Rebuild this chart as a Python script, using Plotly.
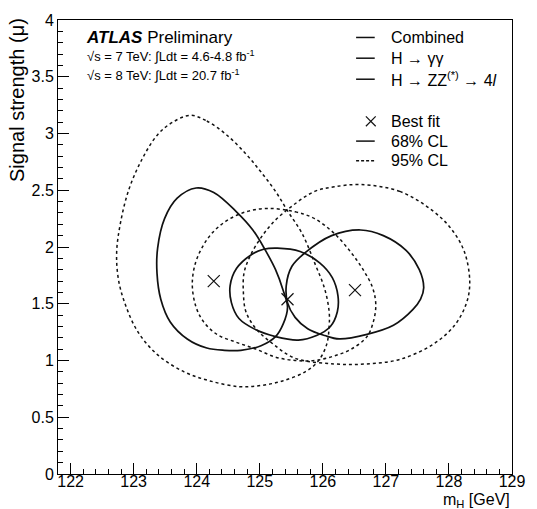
import plotly.graph_objects as go

# ---------------- data (m_H in GeV, signal strength mu) ----------------
zz68_m = [123.99, 124.27, 124.63, 124.89, 125.09, 125.25, 125.37, 125.44, 125.37, 125.25, 125.02,
          124.70, 124.44, 124.16, 123.85, 123.58, 123.43, 123.37, 123.38, 123.49, 123.69]
zz68_mu = [2.52, 2.48, 2.31, 2.15, 1.97, 1.80, 1.62, 1.47, 1.32, 1.21, 1.13,
           1.09, 1.09, 1.11, 1.19, 1.34, 1.54, 1.77, 1.99, 2.25, 2.43]

zz95_m = [123.90, 124.16, 124.47, 124.78, 125.02, 125.25, 125.45, 125.67, 125.87, 126.03, 126.10,
          126.10, 126.06, 125.92, 125.72, 125.36, 125.02, 124.67, 124.21, 123.80, 123.38, 123.07,
          122.87, 122.76, 122.73, 122.79, 122.92, 123.12, 123.38, 123.62]
zz95_mu = [3.16, 3.11, 2.99, 2.82, 2.66, 2.49, 2.31, 2.12, 1.86, 1.63, 1.43,
           1.30, 1.14, 0.99, 0.90, 0.82, 0.78, 0.77, 0.82, 0.90, 1.05, 1.25,
           1.49, 1.71, 1.95, 2.21, 2.50, 2.76, 2.99, 3.10]

comb68_m = [125.28, 125.64, 125.95, 126.15, 126.24, 126.23, 126.12, 125.90, 125.61, 125.25, 124.94,
            124.67, 124.55, 124.53, 124.63, 124.86, 125.06]
comb68_mu = [1.99, 1.96, 1.86, 1.73, 1.57, 1.43, 1.30, 1.22, 1.18, 1.21, 1.27,
             1.37, 1.51, 1.66, 1.81, 1.93, 1.98]

comb95_m = [125.12, 125.56, 125.87, 126.18, 126.45, 126.65, 126.79, 126.84, 126.80, 126.70, 126.45,
            126.18, 125.87, 125.56, 125.25, 124.94, 124.63, 124.32, 124.11, 123.99, 123.93, 123.97,
            124.08, 124.24, 124.47, 124.78]
comb95_mu = [2.34, 2.31, 2.25, 2.12, 1.95, 1.79, 1.64, 1.49, 1.34, 1.21, 1.10,
             1.04, 1.00, 1.00, 1.03, 1.10, 1.16, 1.23, 1.34, 1.47, 1.66, 1.84,
             1.99, 2.12, 2.23, 2.31]

gg68_m = [126.60, 126.96, 127.32, 127.53, 127.60, 127.55, 127.43, 127.12, 126.70, 126.26, 126.03,
          125.76, 125.56, 125.44, 125.42, 125.51, 125.72, 126.14]
gg68_mu = [2.15, 2.10, 1.97, 1.80, 1.64, 1.54, 1.45, 1.31, 1.23, 1.19, 1.22,
           1.28, 1.38, 1.51, 1.66, 1.83, 1.95, 2.10]

gg95_m = [126.60, 127.22, 127.74, 128.05, 128.25, 128.33, 128.28, 128.09, 127.74, 127.22, 126.70,
          126.18, 125.56, 125.20, 124.94, 124.78, 124.74, 124.75, 124.83, 124.98, 125.20, 125.51,
          125.87, 126.18]
gg95_mu = [2.55, 2.49, 2.32, 2.15, 1.95, 1.69, 1.51, 1.31, 1.14, 1.01, 0.97,
           0.97, 1.02, 1.15, 1.28, 1.43, 1.60, 1.77, 1.90, 2.05, 2.21, 2.36,
           2.49, 2.53]

bestfit_m = [124.27, 125.44, 126.51]
bestfit_mu = [1.70, 1.54, 1.62]

legend_labels = ["Combined", "H \u2192 \u03b3\u03b3", "H \u2192 ZZ<sup>(*)</sup> \u2192 4<i>l</i>",
                 "Best fit", "68% CL", "95% CL"]

# ---------------- figure ----------------
W, H = 537, 509
L, R, T, B = 58, 16, 14, 35
PW, PH = W - L - R, H - T - B
FONT = "Liberation Sans, Arial, Helvetica, sans-serif"
INK = "#111111"


def close(a):
    return list(a) + [a[0]]


fig = go.Figure()
contours = [
    (zz95_m, zz95_mu, "3px,3px"),
    (comb95_m, comb95_mu, "3px,3px"),
    (gg95_m, gg95_mu, "3px,3px"),
    (zz68_m, zz68_mu, "solid"),
    (comb68_m, comb68_mu, "solid"),
    (gg68_m, gg68_mu, "solid"),
]
for xs, ys, dash in contours:
    fig.add_trace(go.Scatter(
        x=close(xs), y=close(ys), mode="lines",
        line=dict(color=INK, width=1.7 if dash == "solid" else 1.5, dash=dash, shape="spline", smoothing=1.0),
        hoverinfo="skip", showlegend=False))

fig.add_trace(go.Scatter(
    x=bestfit_m, y=bestfit_mu, mode="markers",
    marker=dict(symbol="x-thin", size=12, line=dict(color=INK, width=1.2)),
    hoverinfo="skip", showlegend=False))


def px2x(px):
    return (px - L) / PW


def py2y(py):
    return (T + PH - py) / PH


shapes = []
annotations = []

# legend (manual, ROOT TLegend style)
rows = [31.7, 52.7, 74.0, 116.7, 136.7, 156.7]
kinds = ["solid", "solid", "solid", "marker", "solid", "dash"]
for lab, py, kind in zip(legend_labels, rows, kinds):
    if kind == "marker":
        for (a, b, c, d) in [(372, py - 5, 382, py + 5), (372, py + 5, 382, py - 5)]:
            shapes.append(dict(type="line", xref="paper", yref="paper",
                               x0=px2x(a), y0=py2y(b), x1=px2x(c), y1=py2y(d),
                               line=dict(color=INK, width=1.2)))
    else:
        shapes.append(dict(type="line", xref="paper", yref="paper",
                           x0=px2x(362), y0=py2y(py), x1=px2x(381), y1=py2y(py),
                           line=dict(color=INK, width=1.5, dash="solid" if kind == "solid" else "3px,2px")))
    annotations.append(dict(xref="paper", yref="paper", x=px2x(396), y=py2y(py),
                            xanchor="left", yanchor="middle", showarrow=False, text=lab,
                            font=dict(family=FONT, size=16, color="black")))

# ATLAS label
annotations.append(dict(xref="paper", yref="paper", x=px2x(85), y=py2y(31.5), xanchor="left", yanchor="middle",
                        showarrow=False, text="<b><i>ATLAS</i></b> Preliminary",
                        font=dict(family=FONT, size=17, color="black")))
annotations.append(dict(xref="paper", yref="paper", x=px2x(86), y=py2y(50), xanchor="left", yanchor="middle",
                        showarrow=False, text="\u221as = 7 TeV: \u222bLdt = 4.6-4.8 fb<sup>-1</sup>",
                        font=dict(family=FONT, size=13, color="black")))
annotations.append(dict(xref="paper", yref="paper", x=px2x(86), y=py2y(70), xanchor="left", yanchor="middle",
                        showarrow=False, text="\u221as = 8 TeV: \u222bLdt = 20.7 fb<sup>-1</sup>",
                        font=dict(family=FONT, size=13, color="black")))

# axis titles (ROOT style: aligned at the axis ends)
annotations.append(dict(xref="paper", yref="paper", x=1, y=0, xanchor="right", yanchor="top",
                        yshift=-15, showarrow=False, text="m<sub>H</sub> [GeV]",
                        font=dict(family=FONT, size=16, color="black")))
annotations.append(dict(xref="paper", yref="paper", x=0, y=1, xanchor="center", yanchor="top",
                        xshift=-41, yshift=4, showarrow=False, text="Signal strength (\u03bc)", textangle=-90,
                        font=dict(family=FONT, size=20, color="black")))

fig.update_layout(
    width=W, height=H, margin=dict(l=L, r=R, t=T, b=B, pad=0),
    paper_bgcolor="white", plot_bgcolor="white",
    shapes=shapes, annotations=annotations, showlegend=False,
    font=dict(family=FONT, size=15, color="black"),
)
fig.update_xaxes(range=[121.8, 129], tick0=122, dtick=1, ticks="inside", ticklen=11, tickwidth=1,
                 tickcolor="black", showline=True, linecolor="black", linewidth=1, mirror=True,
                 showgrid=False, zeroline=False, tickfont=dict(family=FONT, size=16),
                 ticklabelstandoff=-7,
                 minor=dict(tick0=122, dtick=0.2, ticks="inside", ticklen=5, tickcolor="black", showgrid=False))
fig.update_yaxes(range=[0, 4], tick0=0, dtick=0.5, ticks="inside", ticklen=11, tickwidth=1,
                 tickcolor="black", showline=True, linecolor="black", linewidth=1, mirror=True,
                 showgrid=False, zeroline=False, tickfont=dict(family=FONT, size=16),
                 minor=dict(tick0=0, dtick=0.1, ticks="inside", ticklen=5, tickcolor="black", showgrid=False))

fig.write_html("out.html")
